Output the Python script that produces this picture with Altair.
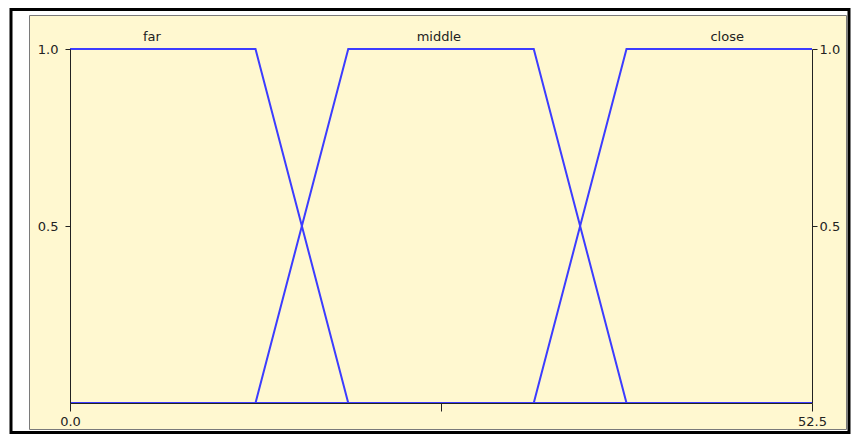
import altair as alt
import pandas as pd

# Membership functions (x in distance units, y in membership degree)
far_x = [0.0, 13.125, 19.6875, 52.5]
far_y = [1.0, 1.0, 0.0, 0.0]
middle_x = [0.0, 13.125, 19.6875, 32.8125, 39.375, 52.5]
middle_y = [0.0, 0.0, 1.0, 1.0, 0.0, 0.0]
close_x = [0.0, 32.8125, 39.375, 52.5]
close_y = [0.0, 0.0, 1.0, 1.0]

label_names = ["far", "middle", "close"]
label_x = [5.8, 26.1, 46.5]
label_y = [1.034, 1.034, 1.034]

x_ticks = [0.0, 26.25, 52.5]
y_ticks = [0.5, 1.0]

rows = []
for name, xs, ys in [("far", far_x, far_y), ("middle", middle_x, middle_y), ("close", close_x, close_y)]:
    for i, (a, b) in enumerate(zip(xs, ys)):
        rows.append({"set": name, "order": i, "x": a, "y": b})
df = pd.DataFrame(rows)
labels_df = pd.DataFrame({"name": label_names, "x": label_x, "y": label_y})
one = pd.DataFrame({"a": [0]})

W, H = 742, 354
FONT = "DejaVu Sans"
TXT = "#222222"
FS = 13

xscale = alt.Scale(domain=[0, 52.5], nice=False, zero=False)
yscale = alt.Scale(domain=[0, 1], nice=False, zero=False)

x_axis = alt.Axis(values=x_ticks, title=None, grid=False, domain=True,
                  domainColor="#222", domainWidth=1, tickColor="#222",
                  tickSize=8, labelPadding=4, zindex=1,
                  labelExpr="datum.value == 26.25 ? '' : format(datum.value, '.1f')",
                  labelFont=FONT, labelFontSize=FS, labelColor=TXT,
                  labelFlush=False, orient="bottom")

outer = alt.Chart(one).mark_rect(fill="white", stroke="black", strokeWidth=3).encode(
    x=alt.value(-59), x2=alt.value(W + 37), y=alt.value(-39.5), y2=alt.value(H + 29.5)
)
panel = alt.Chart(one).mark_rect(fill="#FFF8D0", stroke="#7a7a7a", strokeWidth=1).encode(
    x=alt.value(-40.5), x2=alt.value(W + 34.5), y=alt.value(-33.5), y2=alt.value(H + 26.5)
)

lines = alt.Chart(df).mark_line(color="#3c3cff", strokeWidth=2, clip=False).encode(
    x=alt.X("x:Q", scale=xscale, axis=x_axis),
    y=alt.Y("y:Q", scale=yscale,
            axis=alt.Axis(values=y_ticks, title=None, grid=False, format=".1f",
                          domainColor="#222", tickColor="#222", tickSize=5, zindex=1,
                          labelPadding=7, labelFont=FONT, labelFontSize=FS,
                          labelColor=TXT, labelFlush=False, orient="left")),
    detail="set:N",
    order="order:Q",
)

right_axis = alt.Chart(df).mark_line(opacity=0).encode(
    x=alt.X("x:Q", scale=xscale, axis=x_axis),
    y=alt.Y("y:Q", scale=yscale,
            axis=alt.Axis(values=y_ticks, title=None, grid=False, format=".1f",
                          domainColor="#222", tickColor="#222", tickSize=5, zindex=1,
                          labelPadding=2, labelFont=FONT, labelFontSize=FS,
                          labelColor=TXT, labelFlush=False, orient="right")),
    detail="set:N",
)

texts = alt.Chart(labels_df).mark_text(font=FONT, fontSize=FS, color=TXT,
                                       baseline="middle", align="center").encode(
    x=alt.X("x:Q", scale=xscale, axis=x_axis),
    y=alt.Y("y:Q", scale=yscale, axis=None),
    text="name:N",
)

chart = alt.layer(outer, panel, lines, right_axis, texts).resolve_scale(y="independent").properties(
    width=W, height=H,
    autosize=alt.AutoSizeParams(type="none"),
    padding={"left": 62, "top": 41, "right": 39, "bottom": 31},
    background="white",
).configure_view(stroke=None)

chart.save("out.html", embed_options={"renderer": "svg", "actions": False})
